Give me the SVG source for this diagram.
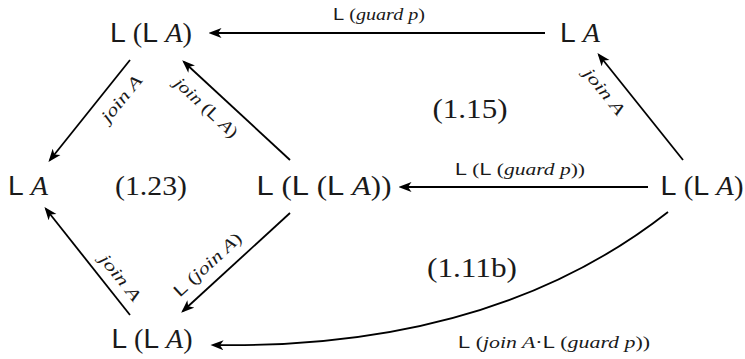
<svg xmlns="http://www.w3.org/2000/svg" width="745" height="359" viewBox="0 0 745 359">
<style>
text.node, text.lab{font-family:'Liberation Serif','DejaVu Serif',serif;fill:#1a1a1a}
.node{font-size:28px}
.lab{font-size:17px}
tspan.sf{font-family:'Liberation Sans','DejaVu Sans',sans-serif;font-style:normal}
tspan.it{font-family:'Liberation Serif','DejaVu Serif',serif;font-style:italic}
.edge{fill:none;stroke:#000;stroke-width:1.8}
</style>
<defs>
<marker id="ah" viewBox="0 0 13 11" refX="10.5" refY="5.5" markerWidth="13" markerHeight="11" orient="auto" markerUnits="userSpaceOnUse">
<path d="M0,0.5 L13,5.5 L0,10.5 L3.5,5.5 Z" fill="#000"/>
</marker>
</defs>

<g id="connectors">
<path class="edge" d="M545,33 L211,33" marker-end="url(#ah)"/>
<path class="edge" d="M130,60 L50,160" marker-end="url(#ah)"/>
<path class="edge" d="M290,160 L184,62" marker-end="url(#ah)"/>
<path class="edge" d="M130,315 L46,209" marker-end="url(#ah)"/>
<path class="edge" d="M290,213 L183,311" marker-end="url(#ah)"/>
<path class="edge" d="M683,160 L599,55" marker-end="url(#ah)"/>
<path class="edge" d="M648,187 L401,187" marker-end="url(#ah)"/>
<path class="edge" d="M668,212 Q492,350 213,345" marker-end="url(#ah)"/>

<text class="lab" font-family="Liberation Serif" x="379" y="20" text-anchor="middle" textLength="92" lengthAdjust="spacingAndGlyphs"><tspan class="sf">L</tspan> (<tspan class="it">guard p</tspan>)</text>
<text class="lab" font-family="Liberation Serif" x="520" y="175" text-anchor="middle" textLength="130" lengthAdjust="spacingAndGlyphs"><tspan class="sf">L</tspan> (<tspan class="sf">L</tspan> (<tspan class="it">guard p</tspan>))</text>
<text class="lab" font-family="Liberation Serif" x="554" y="348" text-anchor="middle" textLength="192" lengthAdjust="spacingAndGlyphs"><tspan class="sf">L</tspan> (<tspan class="it">join A</tspan>·<tspan class="sf">L</tspan> (<tspan class="it">guard p</tspan>))</text>
<text class="lab" font-family="Liberation Serif" transform="translate(122,99) rotate(-51)" x="0" y="5" text-anchor="middle" textLength="55" lengthAdjust="spacingAndGlyphs"><tspan class="it">join A</tspan></text>
<text class="lab" font-family="Liberation Serif" transform="translate(206,108) rotate(43)" x="0" y="5" text-anchor="middle" textLength="80" lengthAdjust="spacingAndGlyphs"><tspan class="it">join</tspan> (<tspan class="sf">L</tspan> <tspan class="it">A</tspan>)</text>
<text class="lab" font-family="Liberation Serif" transform="translate(120,278) rotate(51)" x="0" y="5" text-anchor="middle" textLength="55" lengthAdjust="spacingAndGlyphs"><tspan class="it">join A</tspan></text>
<text class="lab" font-family="Liberation Serif" transform="translate(208,265) rotate(-42.5)" x="0" y="5" text-anchor="middle" textLength="86" lengthAdjust="spacingAndGlyphs"><tspan class="sf">L</tspan> (<tspan class="it">join A</tspan>)</text>
<text class="lab" font-family="Liberation Serif" transform="translate(604,92) rotate(51)" x="0" y="5" text-anchor="middle" textLength="55" lengthAdjust="spacingAndGlyphs"><tspan class="it">join A</tspan></text>
</g>

<g id="n-top-LLA"><text class="node" font-family="Liberation Serif" x="151" y="42" text-anchor="middle" textLength="82" lengthAdjust="spacingAndGlyphs"><tspan class="sf">L</tspan> (<tspan class="sf">L</tspan> <tspan class="it">A</tspan>)</text></g>
<g id="n-top-LA"><text class="node" font-family="Liberation Serif" x="580" y="42" text-anchor="middle" textLength="40" lengthAdjust="spacingAndGlyphs"><tspan class="sf">L</tspan> <tspan class="it">A</tspan></text></g>
<g id="n-left-LA"><text class="node" font-family="Liberation Serif" x="28" y="195" text-anchor="middle" textLength="40" lengthAdjust="spacingAndGlyphs"><tspan class="sf">L</tspan> <tspan class="it">A</tspan></text></g>
<g id="n-mid-LLLA"><text class="node" font-family="Liberation Serif" x="324" y="195" text-anchor="middle" textLength="135" lengthAdjust="spacingAndGlyphs"><tspan class="sf">L</tspan> (<tspan class="sf">L</tspan> (<tspan class="sf">L</tspan> <tspan class="it">A</tspan>))</text></g>
<g id="n-right-LLA"><text class="node" font-family="Liberation Serif" x="702" y="195" text-anchor="middle" textLength="83" lengthAdjust="spacingAndGlyphs"><tspan class="sf">L</tspan> (<tspan class="sf">L</tspan> <tspan class="it">A</tspan>)</text></g>
<g id="n-bottom-LLA"><text class="node" font-family="Liberation Serif" x="152" y="348" text-anchor="middle" textLength="81" lengthAdjust="spacingAndGlyphs"><tspan class="sf">L</tspan> (<tspan class="sf">L</tspan> <tspan class="it">A</tspan>)</text></g>
<g id="eq-123"><text class="node" font-family="Liberation Serif" x="151" y="195" text-anchor="middle" textLength="72" lengthAdjust="spacingAndGlyphs">(1.23)</text></g>
<g id="eq-115"><text class="node" font-family="Liberation Serif" x="470" y="118" text-anchor="middle" textLength="75" lengthAdjust="spacingAndGlyphs">(1.15)</text></g>
<g id="eq-111b"><text class="node" font-family="Liberation Serif" x="472" y="277" text-anchor="middle" textLength="90" lengthAdjust="spacingAndGlyphs">(1.11b)</text></g>
</svg>
